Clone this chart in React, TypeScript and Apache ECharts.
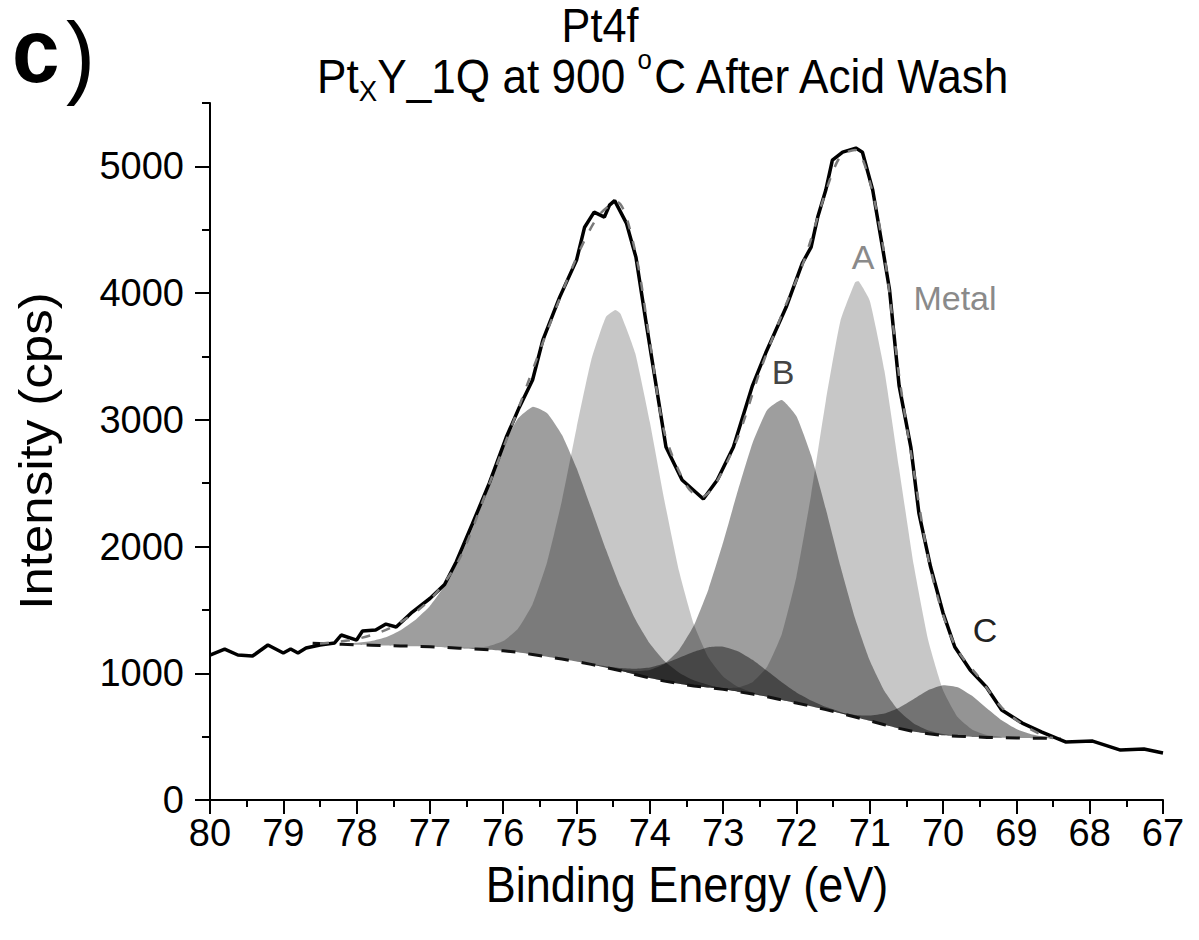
import React, { useEffect, useRef } from "react";
import * as echarts from "echarts";

const FONT = "'Liberation Sans', Arial, Helvetica, sans-serif";

// ---- tick labels ----
const Y_MAJOR_TICKS = [0, 1000, 2000, 3000, 4000, 5000];
const X_RANGE = [67, 80];
const Y_RANGE = [0, 5500];

// ---- measured spectrum (Binding energy eV, intensity cps) ----
const DATA: number[][] = [
  [80.0, 1144], [79.8, 1191], [79.62, 1144], [79.42, 1136], [79.21, 1223], [79.0, 1160],
  [78.9, 1191], [78.8, 1160], [78.69, 1199], [78.5, 1223], [78.3, 1239], [78.21, 1302],
  [78.0, 1262], [77.92, 1333], [77.74, 1341], [77.6, 1388], [77.46, 1365], [77.24, 1483],
  [77.0, 1590], [76.8, 1700], [76.64, 1880], [76.42, 2180], [76.19, 2500], [75.96, 2860],
  [75.78, 3100], [75.6, 3314], [75.46, 3629], [75.23, 3968], [75.0, 4260], [74.89, 4520],
  [74.76, 4639], [74.62, 4600], [74.55, 4694], [74.48, 4730], [74.32, 4552], [74.19, 4284],
  [74.05, 3763], [73.92, 3290], [73.78, 2785], [73.56, 2525], [73.27, 2375], [73.08, 2525],
  [72.86, 2785], [72.6, 3270], [72.42, 3527], [72.14, 3890], [71.92, 4237], [71.8, 4363],
  [71.71, 4600], [71.6, 4813], [71.51, 5049], [71.37, 5112], [71.19, 5144], [71.1, 5112],
  [70.96, 4813], [70.82, 4339], [70.73, 4024], [70.6, 3270], [70.44, 2785], [70.33, 2264],
  [70.17, 1838], [70.0, 1475], [69.84, 1207], [69.63, 1026], [69.41, 892], [69.2, 710],
  [68.92, 607], [68.66, 537], [68.33, 458], [67.96, 465], [67.58, 394], [67.26, 402], [67.0, 371],
];

// ---- fitted envelope ----
const FIT: number[][] = [
  [78.5, 1235], [78.0, 1270], [77.5, 1370], [77.0, 1580], [76.6, 1900], [76.2, 2480],
  [75.8, 3080], [75.4, 3700], [75.0, 4280], [74.7, 4610], [74.45, 4720], [74.2, 4330],
  [74.0, 3620], [73.8, 2900], [73.5, 2480], [73.3, 2390], [73.1, 2500], [72.8, 2860],
  [72.5, 3380], [72.2, 3830], [71.9, 4250], [71.6, 4800], [71.4, 5080], [71.2, 5130],
  [71.0, 4880], [70.8, 4300], [70.6, 3350], [70.4, 2600], [70.2, 1900], [70.0, 1460],
  [69.8, 1180], [69.5, 960], [69.2, 730], [68.9, 590], [68.6, 500], [68.5, 490],
];

// ---- Shirley background ----
const BASELINE: number[][] = [
  [78.6, 1237], [78.4, 1233], [78.2, 1229], [78.0, 1225], [77.8, 1222], [77.6, 1219],
  [77.4, 1216], [77.2, 1213], [77.0, 1209], [76.8, 1204], [76.6, 1198], [76.4, 1192],
  [76.2, 1185], [76.0, 1177], [75.8, 1165], [75.6, 1148], [75.4, 1130], [75.2, 1112],
  [75.0, 1093], [74.8, 1070], [74.6, 1046], [74.4, 1020], [74.2, 990], [74.0, 962],
  [73.8, 938], [73.6, 918], [73.4, 900], [73.2, 887], [73.0, 873], [72.8, 855],
  [72.6, 836], [72.4, 815], [72.2, 790], [72.0, 765], [71.8, 740], [71.6, 713],
  [71.4, 685], [71.2, 655], [71.0, 625], [70.8, 594], [70.6, 565], [70.4, 540],
  [70.2, 522], [70.0, 510], [69.8, 503], [69.6, 498], [69.4, 494], [69.2, 491],
  [69.0, 489], [68.8, 488], [68.6, 487], [68.4, 486],
];

// ---- fitted components (upper edge, background included) ----
const PEAK_A_72: number[][] = [
  [73.2, 890], [73.0, 883], [72.8, 887], [72.6, 930], [72.4, 1052], [72.2, 1310],
  [72.0, 1763], [71.8, 2410], [71.6, 3148], [71.4, 3781], [71.2, 4086], [71.15, 4093],
  [71.0, 3940], [70.8, 3387], [70.6, 2616], [70.4, 1854], [70.2, 1255], [70.0, 867],
  [69.8, 654], [69.6, 554], [69.4, 512], [69.2, 496],
];
const PEAK_A_52: number[][] = [
  [76.6, 1201], [76.4, 1201], [76.2, 1213], [76.0, 1254], [75.8, 1351], [75.6, 1545],
  [75.4, 1880], [75.2, 2362], [75.0, 2935], [74.8, 3470], [74.6, 3811], [74.47, 3867],
  [74.4, 3837], [74.2, 3527], [74.0, 2982], [73.8, 2360], [73.6, 1803], [73.4, 1387],
  [73.2, 1124], [73.0, 975], [72.8, 894], [72.6, 849], [72.4, 819],
];
const PEAK_B_72: number[][] = [
  [74.6, 1050], [74.4, 1031], [74.2, 1017], [74.0, 1026], [73.8, 1075], [73.6, 1185],
  [73.4, 1376], [73.2, 1664], [73.0, 2033], [72.8, 2440], [72.6, 2816], [72.4, 3078],
  [72.2, 3156], [72.0, 3028], [71.8, 2720], [71.6, 2298], [71.4, 1845], [71.2, 1432],
  [71.0, 1101], [70.8, 861], [70.6, 702], [70.4, 604], [70.2, 549], [70.0, 521], [69.8, 507],
];
const PEAK_B_52: number[][] = [
  [78.2, 1233], [78.0, 1240], [77.8, 1255], [77.6, 1285], [77.4, 1340], [77.2, 1420],
  [77.0, 1530], [76.8, 1690], [76.6, 1900], [76.4, 2170], [76.2, 2470], [76.0, 2790],
  [75.8, 3010], [75.6, 3102], [75.4, 3052], [75.2, 2882], [75.0, 2620], [74.8, 2303],
  [74.6, 1979], [74.4, 1680], [74.2, 1428], [74.0, 1234], [73.8, 1096], [73.6, 1004],
  [73.4, 944], [73.2, 908], [73.0, 882], [72.8, 859],
];
const PEAK_C_72: number[][] = [
  [71.6, 715], [71.4, 690], [71.2, 671], [71.0, 666], [70.8, 682], [70.6, 728],
  [70.4, 797], [70.2, 868], [70.0, 906], [69.8, 890], [69.6, 820], [69.4, 722],
  [69.2, 629], [69.0, 560], [68.8, 519], [68.6, 499], [68.4, 490],
];
const PEAK_C_52: number[][] = [
  [74.8, 1074], [74.6, 1056], [74.4, 1042], [74.2, 1036], [74.0, 1046], [73.8, 1077],
  [73.6, 1122], [73.4, 1170], [73.2, 1206], [73.0, 1210], [72.8, 1174], [72.6, 1106],
  [72.4, 1019], [72.2, 929], [72.0, 849], [71.8, 786], [71.6, 735], [71.4, 695], [71.2, 659],
];

const FILL_A = "rgba(0,0,0,0.22)";
const FILL_B = "rgba(0,0,0,0.38)";
const FILL_C = "rgba(0,0,0,0.42)";

function peakSeries(name: string, pts: number[][], fill: string) {
  return {
    name,
    type: "custom",
    xAxisIndex: 0,
    yAxisIndex: 0,
    silent: true,
    z: 1,
    clip: true,
    data: [pts[0]],
    renderItem: (_params: any, api: any) => {
      const xs = pts.map((p) => p[0]);
      const lo = Math.min(...xs) - 1e-9;
      const hi = Math.max(...xs) + 1e-9;
      const top = [...pts].sort((a, b) => b[0] - a[0]).map((p) => api.coord(p));
      const base = BASELINE.filter((p) => p[0] >= lo && p[0] <= hi)
        .sort((a, b) => a[0] - b[0])
        .map((p) => api.coord(p));
      return {
        type: "polygon",
        shape: { points: [...top, ...base], smooth: 0.15 },
        style: { fill, stroke: "none" },
      };
    },
  };
}

function text(x: number, y: number, t: string, size: number, opts: any = {}) {
  const {
    color = "#000",
    weight = "normal",
    align = "center",
    scaleX = 1,
    scaleY = 1,
    rotation = 0,
    rich,
    lineHeight,
  } = opts;
  const style: any = {
    text: t,
    fontSize: size,
    fontFamily: FONT,
    fontWeight: weight,
    fill: color,
    textAlign: align,
    align,
    textVerticalAlign: "middle",
    verticalAlign: "middle",
  };
  if (rich) style.rich = rich;
  if (lineHeight) style.lineHeight = lineHeight;
  return { type: "text", x, y, scaleX, scaleY, rotation, silent: true, style };
}

const axisCommon = {
  type: "value",
  splitLine: { show: false },
};

const option: any = {
  animation: false,
  backgroundColor: "#ffffff",
  grid: { left: 210, right: 36, top: 103, bottom: 140, containLabel: false },
  xAxis: [
    {
      ...axisCommon,
      min: X_RANGE[0],
      max: X_RANGE[1],
      inverse: true,
      interval: 1,
      position: "bottom",
      axisLine: { show: true, onZero: false, lineStyle: { color: "#000", width: 2 } },
      axisTick: { show: true, inside: false, length: 14, lineStyle: { color: "#000", width: 2 } },
      axisLabel: { show: true, fontSize: 38, color: "#000", fontFamily: FONT, margin: 14 },
    },
    {
      ...axisCommon,
      min: X_RANGE[0],
      max: X_RANGE[1],
      inverse: true,
      interval: 0.5,
      position: "bottom",
      axisLine: { show: false, onZero: false },
      axisTick: { show: true, inside: false, length: 7, lineStyle: { color: "#000", width: 2 } },
      axisLabel: { show: false },
    },
  ],
  yAxis: [
    {
      ...axisCommon,
      min: Y_RANGE[0],
      max: Y_RANGE[1],
      interval: 1000,
      position: "left",
      axisLine: { show: true, onZero: false, lineStyle: { color: "#000", width: 2 } },
      axisTick: { show: true, inside: false, length: 15, customValues: Y_MAJOR_TICKS, lineStyle: { color: "#000", width: 2 } },
      axisLabel: {
        show: true,
        fontSize: 38,
        color: "#000",
        fontFamily: FONT,
        margin: 26,
        customValues: Y_MAJOR_TICKS,
        formatter: (v: number) => (v % 1000 === 0 ? String(v) : ""),
      },
    },
    {
      ...axisCommon,
      min: Y_RANGE[0],
      max: Y_RANGE[1],
      interval: 500,
      position: "left",
      axisLine: { show: false, onZero: false },
      axisTick: { show: true, inside: false, length: 8, lineStyle: { color: "#000", width: 2 } },
      axisLabel: { show: false },
    },
  ],
  series: [
    peakSeries("B 4f5/2", PEAK_B_52, FILL_B),
    peakSeries("A 4f5/2", PEAK_A_52, FILL_A),
    peakSeries("C 4f5/2", PEAK_C_52, FILL_C),
    peakSeries("B 4f7/2", PEAK_B_72, FILL_B),
    peakSeries("A 4f7/2", PEAK_A_72, FILL_A),
    peakSeries("C 4f7/2", PEAK_C_72, FILL_C),
    {
      name: "Background",
      type: "line",
      data: BASELINE,
      symbol: "none",
      z: 3,
      lineStyle: { color: "#111", width: 3, type: [14, 13] },
    },
    {
      name: "Data",
      type: "line",
      data: DATA,
      symbol: "none",
      z: 4,
      lineStyle: { color: "#000", width: 3.5 },
    },
    {
      name: "Fit",
      type: "line",
      data: FIT,
      symbol: "none",
      smooth: 0.3,
      z: 5,
      lineStyle: { color: "#7a7a7a", width: 2.5, type: [9, 12] },
    },
  ],
  graphic: [
    text(12, 51, "c", 90, { weight: "bold", align: "left", scaleX: 0.95, lineHeight: 70 }),
    text(66, 55, ")", 92, { align: "left", scaleX: 0.95, lineHeight: 76 }),
    text(600, 26, "Pt4f", 48, { scaleX: 0.9 }),
    text(664, 76, "Pt{sub|X}Y_1Q at 900 {sup|o}C After Acid Wash", 48, {
      scaleX: 0.92,
      lineHeight: 60,
      rich: {
        sub: { fontSize: 30, fontFamily: FONT, lineHeight: 16, verticalAlign: "bottom", fill: "#000" },
        sup: { fontSize: 28, fontFamily: FONT, lineHeight: 26, verticalAlign: "top", fill: "#000" },
      },
    }),
    text(687, 885, "Binding Energy (eV)", 50, { scaleX: 0.9 }),
    text(36, 451, "Intensity (cps)", 51, { rotation: Math.PI / 2, scaleY: 0.9 }),
    text(863, 257, "A", 34, { color: "#8a8a8a" }),
    text(955, 298, "Metal", 34, { color: "#8a8a8a" }),
    text(783, 372, "B", 34, { color: "#444" }),
    text(985, 630, "C", 34, { color: "#222" }),
  ],
};

export default function App() {
  const ref = useRef<HTMLDivElement>(null);
  useEffect(() => {
    document.body.style.margin = "0";
    const chart = echarts.init(ref.current!, null, { renderer: "svg" });
    chart.setOption(option);
    return () => chart.dispose();
  }, []);
  return <div ref={ref} style={{ width: 1199, height: 940 }} />;
}
